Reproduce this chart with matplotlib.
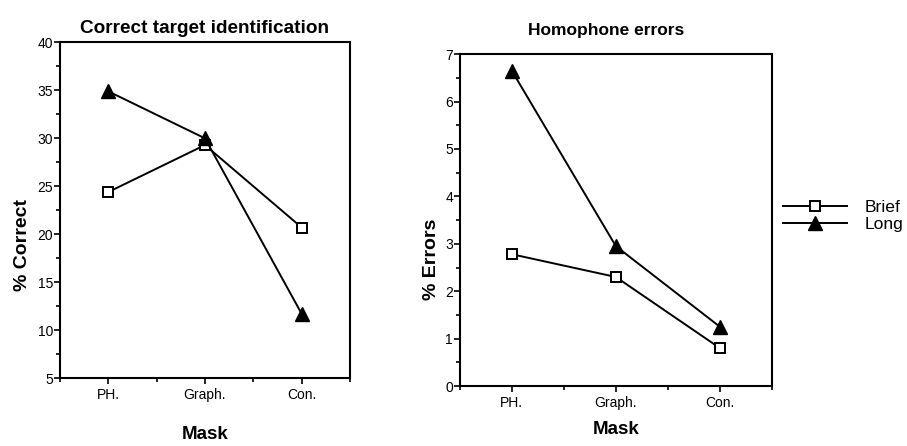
import matplotlib
matplotlib.use('Agg')
import matplotlib.pyplot as plt
from matplotlib.ticker import MultipleLocator, FixedLocator

plt.rcParams['font.family'] = ['Liberation Sans', 'DejaVu Sans']

masks = ['PH.', 'Graph.', 'Con.']
correct_brief = [24.4, 29.3, 20.7]
correct_long = [34.9, 30.0, 11.7]
errors_brief = [2.78, 2.3, 0.8]
errors_long = [6.65, 2.95, 1.25]

xpos = [0.5, 1.5, 2.5]

fig = plt.figure(figsize=(9.07, 4.46), dpi=100)
ax1 = fig.add_axes([0.066, 0.152, 0.320, 0.753])
ax2 = fig.add_axes([0.507, 0.1345, 0.344, 0.744])


def style(ax, ylo, yhi, major, minor):
    ax.set_xlim(0, 3)
    ax.set_ylim(ylo, yhi)
    ax.xaxis.set_major_locator(FixedLocator(xpos))
    ax.xaxis.set_minor_locator(FixedLocator([0, 1, 2, 3]))
    ax.set_xticklabels(masks)
    ax.yaxis.set_major_locator(MultipleLocator(major))
    ax.yaxis.set_minor_locator(MultipleLocator(minor))
    ax.tick_params(axis='both', which='both', direction='out', width=1.2,
                   labelsize=10, color='black')
    ax.tick_params(axis='both', which='major', length=4)
    ax.tick_params(axis='both', which='minor', length=3)
    ax.tick_params(axis='y', pad=1)
    ax.tick_params(axis='x', pad=3)
    for s in ax.spines.values():
        s.set_linewidth(1.5)


for ax, b, l in [(ax1, correct_brief, correct_long), (ax2, errors_brief, errors_long)]:
    ax.plot(xpos, b, color='black', lw=1.4, marker='s', ms=7,
            mfc='white', mec='black', mew=1.4, label='Brief', zorder=3)
    ax.plot(xpos, l, color='black', lw=1.4, marker='^', ms=10,
            mfc='black', mec='black', label='Long', zorder=4)

style(ax1, 5, 40, 5, 2.5)
style(ax2, 0, 7, 1, 0.5)

ax1.set_title('Correct target identification', fontsize=13.7, fontweight='bold', pad=7)
ax2.set_title('Homophone errors', fontsize=12.5, fontweight='bold', pad=14, x=0.47)
ax1.set_ylabel('% Correct', fontsize=14, fontweight='bold')
ax2.set_ylabel('% Errors', fontsize=14, fontweight='bold')
ax1.yaxis.set_label_coords(-0.10, 0.396)
ax2.yaxis.set_label_coords(-0.064, 0.383)
ax1.set_xlabel('Mask', fontsize=13.5, fontweight='bold', labelpad=17)
ax2.set_xlabel('Mask', fontsize=13.5, fontweight='bold', labelpad=8)

fig.legend(handles=ax2.get_lines(), labels=['Brief', 'Long'],
           loc='center left', bbox_to_anchor=(0.863, 0.515), frameon=False,
           fontsize=12.6, handlelength=3.7, handletextpad=1.0,
           labelspacing=0.1, borderpad=0, borderaxespad=0)

fig.savefig('out.png', dpi=100)
